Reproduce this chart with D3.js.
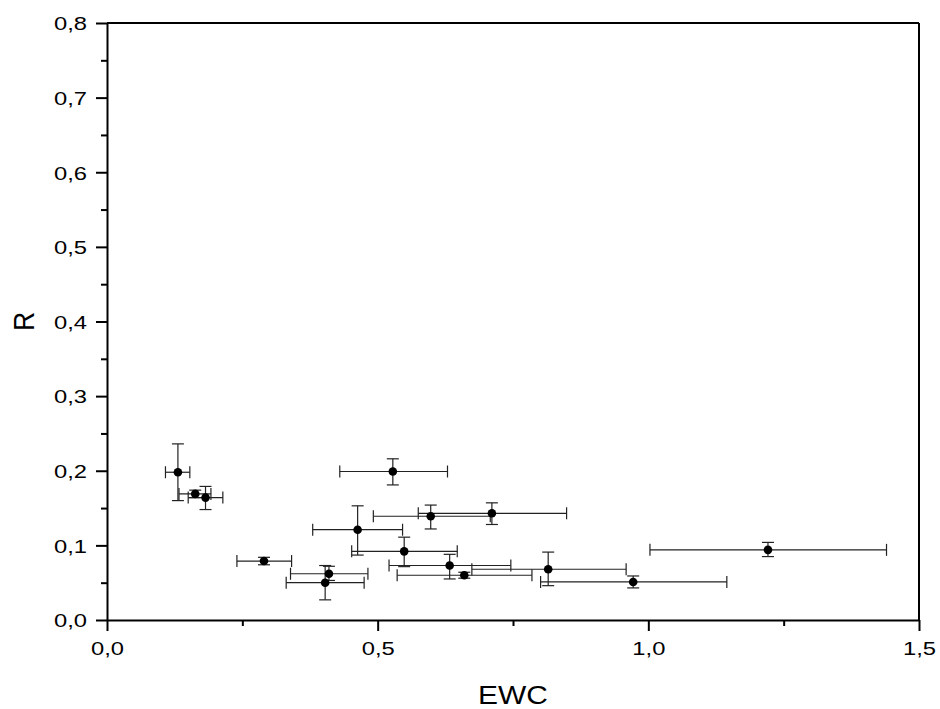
<!DOCTYPE html>
<html>
<head>
<meta charset="utf-8">
<script src="https://cdn.jsdelivr.net/npm/d3@7"></script>
<style>
  html, body { margin: 0; padding: 0; background: #fff; }
  svg { display: block; }
  text { font-family: "Liberation Sans", Arial, sans-serif; fill: #000; }
</style>
</head>
<body>
<svg id="chart" width="940" height="709"></svg>
<script>
// ---- data ----
const ewc     = [0.131, 0.163, 0.182, 0.290, 0.410, 0.403, 0.463, 0.528, 0.549, 0.598, 0.711, 0.633, 0.660, 0.815, 0.972, 1.221];
const rVal    = [0.198, 0.169, 0.164, 0.079, 0.062, 0.050, 0.121, 0.199, 0.092, 0.139, 0.143, 0.073, 0.060, 0.068, 0.051, 0.094];
const ewcLow  = [0.108, 0.133, 0.150, 0.240, 0.339, 0.331, 0.380, 0.430, 0.452, 0.492, 0.575, 0.521, 0.536, 0.674, 0.801, 1.003];
const ewcHigh = [0.153, 0.192, 0.214, 0.341, 0.482, 0.475, 0.546, 0.629, 0.647, 0.708, 0.849, 0.746, 0.785, 0.959, 1.145, 1.440];
const rLow    = [0.160, 0.164, 0.148, 0.074, 0.053, 0.027, 0.087, 0.181, 0.0715, 0.122, 0.128, 0.055, 0.056, 0.046, 0.043, 0.085];
const rHigh   = [0.236, 0.174, 0.179, 0.084, 0.072, 0.073, 0.153, 0.216, 0.111, 0.154, 0.157, 0.088, 0.064, 0.091, 0.059, 0.104];
const xTicks  = [0, 0.5, 1.0, 1.5];
const xMinor  = [0.25, 0.75, 1.25];
const yTicks  = [0, 0.1, 0.2, 0.3, 0.4, 0.5, 0.6, 0.7, 0.8];
const yMinor  = [0.05, 0.15, 0.25, 0.35, 0.45, 0.55, 0.65, 0.75];
const xTitle  = "EWC";
const yTitle  = "R";

// ---- layout ----
const W = 940, H = 709;
const m = { left: 107, top: 23, right: 21, bottom: 89 };
const iw = W - m.left - m.right, ih = H - m.top - m.bottom;
const svg = d3.select("#chart");
const g = svg.append("g").attr("transform", `translate(${m.left},${m.top})`);

const x = d3.scaleLinear().domain([0, 1.5]).range([0, iw]);
const y = d3.scaleLinear().domain([0, 0.8]).range([ih, 0]);
const fmt = v => d3.format(".1f")(v).replace(".", ",");
const sx = 1.25; // horizontal stretch of tick labels in the reference

// minor ticks
g.append("g").attr("transform", `translate(0,${ih})`)
  .call(d3.axisBottom(x).tickValues(xMinor).tickSize(6).tickFormat(""))
  .call(a => a.select(".domain").remove())
  .selectAll("line").attr("stroke", "#000").attr("stroke-width", 2);
g.append("g")
  .call(d3.axisLeft(y).tickValues(yMinor).tickSize(6).tickFormat(""))
  .call(a => a.select(".domain").remove())
  .selectAll("line").attr("stroke", "#000").attr("stroke-width", 2);

// major axes
const xa = g.append("g").attr("transform", `translate(0,${ih})`)
  .call(d3.axisBottom(x).tickValues(xTicks).tickSize(11).tickSizeOuter(0).tickPadding(11).tickFormat(fmt));
const ya = g.append("g")
  .call(d3.axisLeft(y).tickValues(yTicks).tickSize(11).tickSizeOuter(0).tickFormat(fmt));
[xa, ya].forEach(a => {
  a.select(".domain").attr("stroke", "#000").attr("stroke-width", 2);
  a.selectAll(".tick line").attr("stroke", "#000").attr("stroke-width", 2);
  a.selectAll(".tick text").attr("font-size", 19).attr("fill", "#000")
    .style("font-family", '"Liberation Sans", Arial, sans-serif');
});
xa.selectAll(".tick text").attr("transform", `scale(${sx},1)`);
ya.selectAll(".tick text").attr("x", -20 / sx).attr("dy", "0.36em").attr("transform", `scale(${sx},1)`);

// frame top/right
g.append("line").attr("x1", 0).attr("x2", iw).attr("y1", 0).attr("y2", 0)
  .attr("stroke", "#000").attr("stroke-width", 2);
g.append("line").attr("x1", iw).attr("x2", iw).attr("y1", 0).attr("y2", ih)
  .attr("stroke", "#000").attr("stroke-width", 2);

// data
const idx = d3.range(ewc.length);
const cap = 6;
const eb = g.append("g").attr("stroke", "#222").attr("stroke-width", 1.2).attr("fill", "none");
idx.forEach(i => {
  const cx = x(ewc[i]), cy = y(rVal[i]);
  const x0 = x(ewcLow[i]), x1 = x(ewcHigh[i]);
  const y0 = y(rLow[i]), y1 = y(rHigh[i]);
  eb.append("line").attr("x1", x0).attr("x2", x1).attr("y1", cy).attr("y2", cy);
  eb.append("line").attr("x1", x0).attr("x2", x0).attr("y1", cy - cap).attr("y2", cy + cap);
  eb.append("line").attr("x1", x1).attr("x2", x1).attr("y1", cy - cap).attr("y2", cy + cap);
  eb.append("line").attr("x1", cx).attr("x2", cx).attr("y1", y0).attr("y2", y1);
  eb.append("line").attr("x1", cx - cap).attr("x2", cx + cap).attr("y1", y0).attr("y2", y0);
  eb.append("line").attr("x1", cx - cap).attr("x2", cx + cap).attr("y1", y1).attr("y2", y1);
});
g.append("g").selectAll("circle").data(idx).join("circle")
  .attr("cx", i => x(ewc[i])).attr("cy", i => y(rVal[i])).attr("r", 4.3)
  .attr("fill", "#000");

// titles
svg.append("text")
  .attr("transform", `translate(${m.left + iw / 2},704) scale(1.13,1)`)
  .attr("text-anchor", "middle").attr("font-size", 26.5).text(xTitle);
svg.append("text")
  .attr("transform", `translate(33.5,${m.top + ih / 2}) scale(1.13,1) rotate(-90)`)
  .attr("text-anchor", "middle").attr("font-size", 26.5).text(yTitle);
</script>
</body>
</html>
